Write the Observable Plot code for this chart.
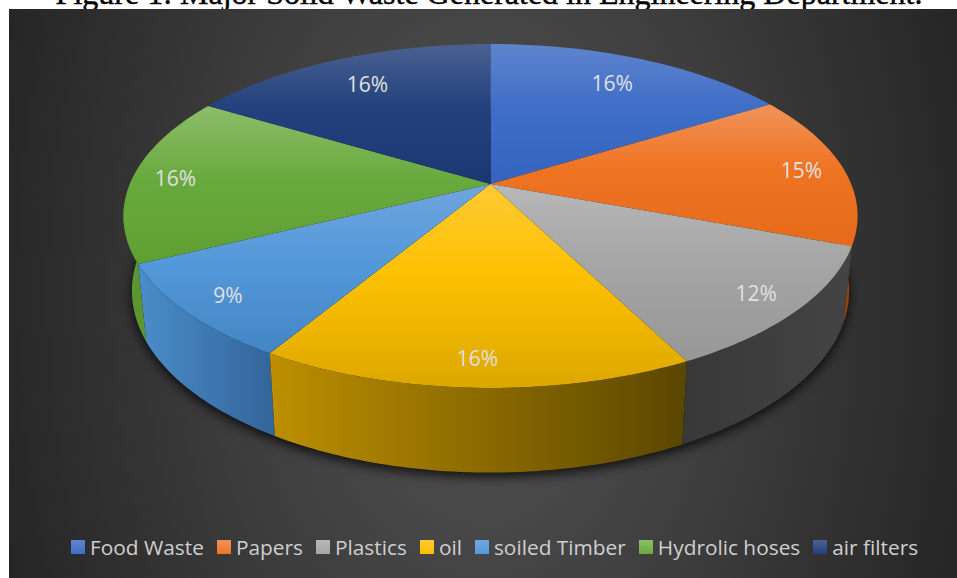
<!DOCTYPE html>
<html>
<head>
<meta charset="utf-8">
<script src="https://cdn.jsdelivr.net/npm/d3@7"></script>
<script src="https://cdn.jsdelivr.net/npm/@observablehq/plot@0.6"></script>
<style>
  html, body { margin: 0; padding: 0; background: #fff; overflow: hidden; }
  #page { position: relative; width: 957px; height: 578px; overflow: hidden; }
  #title { position: absolute; left: 0; width: 978px; top: -23px; text-align: center; white-space: nowrap;
           font: 32px "Liberation Serif", serif; -webkit-text-stroke: 0.45px #000; color: #000; line-height: 32px; }
  #panel { position: absolute; left: 9px; top: 9px; width: 948px; height: 569px;
           background: radial-gradient(ellipse 500px 800px at 50% 50%, #555 0%, #262626 100%); }
  #chart { position: absolute; left: 0; top: 0; }
  #legend { position: absolute; left: 71px; top: 532px; display: flex; gap: 13px; white-space: nowrap;
            font: 20.85px "Open Sans", sans-serif; color: #cfcfcf; line-height: 30px; }
  #legend span.item { display: flex; align-items: center; gap: 5px; }
  #legend i { display: block; width: 14px; height: 14px; }
</style>
</head>
<body>
<div id="page">
  <div id="title">Figure 1: Major Solid Waste Generated in Engineering Department.</div>
  <div id="panel"></div>
  <div id="chart"></div>
  <div id="legend"></div>
</div>
<script>
// Share of each waste stream, in percent
const categories = ["Food Waste", "Papers", "Plastics", "oil", "soiled Timber", "Hydrolic hoses", "air filters"];
const shares = [16.2, 14.5, 11.8, 16.1, 9.1, 15.9, 16.4];

// Top-face shading per slice: light rim, body, lower edge
const faceLight = ["#5f84ce", "#f1925a", "#b8b8b8", "#ffc934", "#70a5de", "#8dbd6a", "#4b6191"];
const faceBody  = ["#3f6ec7", "#ef7422", "#a5a5a5", "#fdc100", "#5499d9", "#69aa3f", "#23417d"];
const faceLow   = ["#3464c0", "#e56a1a", "#979797", "#dca700", "#4386c6", "#5f9f34", "#1b3873"];

// Outer wall shading per slice, left to right
const wallLeft  = ["#2d5299", "#b0540f", "#383838", "#bd8f00", "#4b8dc9", "#5d9832", "#16305f"];
const wallRight = ["#2d5299", "#8f430c", "#444444", "#5a4600", "#33649a", "#4f8a2a", "#16305f"];

// Projection of the disc: a tilted circle seen in perspective
const perspective = 0.186;
const lowerScaleX = 0.977;
const lowerScaleY = 1.057;
const lowerDrop = 0.44;
const project = (theta, r = 1) => {
  const w = 1 + perspective * r * Math.cos(theta);
  return { x: (r * Math.sin(theta)) / w, y: (r * Math.cos(theta)) / w };
};
const lower = ({ x, y }) => ({ x: x * lowerScaleX, y: y * lowerScaleY - lowerDrop });

const arcPoints = (a0, a1) => {
  const n = Math.max(2, Math.ceil(Math.abs(a1 - a0) / (Math.PI / 180)));
  return d3.range(n + 1).map((i) => project(a0 + ((a1 - a0) * i) / n));
};

const slices = d3.pie().sort(null).value((d) => d)(shares);

const topFace = (s) => [{ x: 0, y: 0 }, ...arcPoints(s.startAngle, s.endAngle)];
const wall = (s) => {
  const rim = arcPoints(s.startAngle, s.endAngle);
  return [...rim, ...rim.map(lower).reverse()];
};
const shadow = arcPoints(0, 2 * Math.PI).map(lower);

const polygon = (points, fill, extra = {}) =>
  Plot.line(points, { x: "x", y: "y", fill, stroke: "none", curve: "linear-closed", ...extra });

// Gradients referenced by the polygons
const gradients = () => {
  const defs = d3.create("svg:defs");
  categories.forEach((_, i) => {
    const f = defs.append("linearGradient").attr("id", `face${i}`).attr("x1", 0).attr("y1", 0).attr("x2", 0).attr("y2", 1);
    [[0, faceLight[i]], [0.45, faceBody[i]], [1, faceLow[i]]].forEach(([o, c]) =>
      f.append("stop").attr("offset", o).attr("stop-color", c));
    const w = defs.append("linearGradient").attr("id", `wall${i}`).attr("x1", 0).attr("y1", 0).attr("x2", 1).attr("y2", 0);
    [[0, wallLeft[i]], [1, wallRight[i]]].forEach(([o, c]) =>
      w.append("stop").attr("offset", o).attr("stop-color", c));
  });
  return defs.node();
};

// Back walls first so the nearer ones overlap them
const wallOrder = [1, 5, 2, 4, 3];

const labels = slices.map((s, i) => {
  const mid = (s.startAngle + s.endAngle) / 2;
  const r = Math.cos(mid) > 0.5 ? 0.78 : 0.88;
  return { ...project(mid, r), text: `${Math.round(shares[i])}%` };
});

const chart = Plot.plot({
  width: 957,
  height: 578,
  margin: 0,
  style: { background: "transparent" },
  x: { axis: null, domain: [-1, 1], range: [129.4, 850.6] },
  y: { axis: null, domain: [-1, 1], range: [349.5, 17.5] },
  marks: [
    gradients,
    polygon(shadow, "#000", { dy: 4, fillOpacity: 0.8, imageFilter: "blur(6px)" }),
    ...wallOrder.map((i) => polygon(wall(slices[i]), `url(#wall${i})`)),
    ...slices.map((s, i) => polygon(topFace(s), `url(#face${i})`)),
    Plot.text(labels, {
      x: "x", y: "y", dy: 1, text: "text", fill: "#e0e0e0", fontSize: 21,
      fontFamily: "Open Sans, sans-serif", textAnchor: "middle"
    })
  ]
});
document.getElementById("chart").append(chart);

// Legend swatches share the top-face shading
const legend = d3.select("#legend");
categories.forEach((name, i) => {
  const item = legend.append("span").attr("class", "item");
  item.append("i").style("background", `linear-gradient(${faceLight[i]}, ${faceBody[i]})`);
  item.append("span").text(name);
});
</script>
</body>
</html>
